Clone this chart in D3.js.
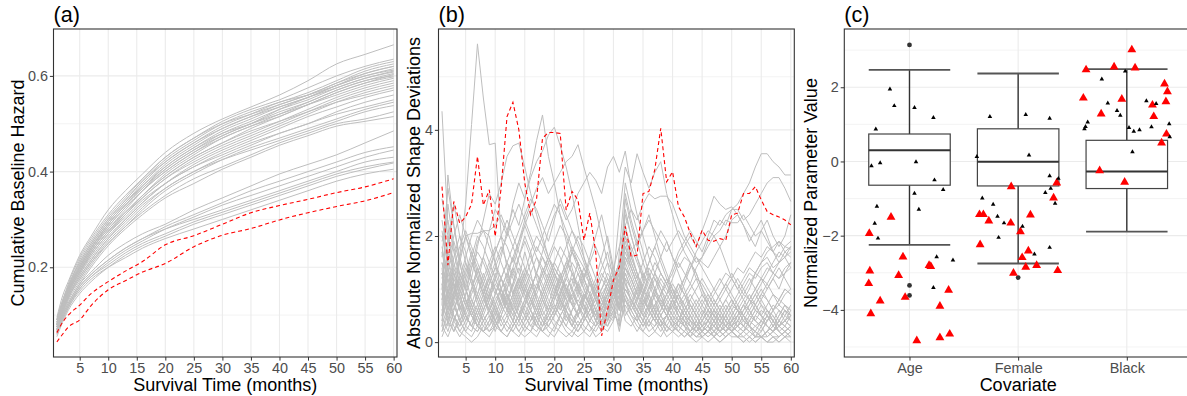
<!DOCTYPE html>
<html><head><meta charset="utf-8">
<script src="https://cdn.jsdelivr.net/npm/d3@7"></script>
<style>body{margin:0;background:#fff}svg{display:block}</style>
</head><body>
<svg id="chart" width="1187" height="396"></svg>
<script>
// ---------------- DATA ----------------
// Panel (a): cumulative baseline hazard, sampled months
const hazMonths = [1,2,3,5,7,10,13,16,20,25,30,35,40,45,50,55,60];
const hazGrey = [
 [0.095,0.14,0.17,0.225,0.265,0.32,0.36,0.395,0.44,0.48,0.51,0.535,0.56,0.59,0.625,0.645,0.665],
 [0.09,0.13,0.165,0.22,0.26,0.31,0.35,0.385,0.43,0.47,0.505,0.53,0.55,0.575,0.60,0.62,0.635],
 [0.085,0.125,0.16,0.21,0.25,0.30,0.34,0.38,0.425,0.465,0.50,0.525,0.545,0.565,0.59,0.615,0.63],
 [0.09,0.13,0.16,0.215,0.255,0.305,0.345,0.385,0.43,0.47,0.50,0.52,0.54,0.56,0.585,0.61,0.625],
 [0.08,0.12,0.155,0.205,0.245,0.295,0.335,0.375,0.42,0.46,0.49,0.515,0.54,0.56,0.585,0.605,0.62],
 [0.085,0.12,0.15,0.20,0.24,0.29,0.33,0.37,0.415,0.455,0.49,0.515,0.535,0.555,0.58,0.60,0.615],
 [0.075,0.115,0.15,0.20,0.24,0.29,0.33,0.365,0.41,0.45,0.485,0.51,0.535,0.555,0.575,0.595,0.61],
 [0.08,0.12,0.15,0.195,0.235,0.28,0.32,0.36,0.405,0.445,0.48,0.505,0.53,0.55,0.575,0.595,0.608],
 [0.09,0.125,0.155,0.205,0.245,0.295,0.335,0.37,0.41,0.45,0.48,0.50,0.525,0.545,0.57,0.59,0.605],
 [0.07,0.11,0.145,0.19,0.23,0.275,0.315,0.35,0.395,0.435,0.47,0.495,0.52,0.545,0.57,0.59,0.60],
 [0.08,0.115,0.15,0.195,0.235,0.285,0.325,0.36,0.40,0.44,0.47,0.495,0.515,0.54,0.565,0.585,0.598],
 [0.085,0.12,0.155,0.20,0.24,0.29,0.33,0.365,0.405,0.445,0.475,0.50,0.52,0.54,0.56,0.58,0.595],
 [0.075,0.11,0.14,0.185,0.225,0.27,0.31,0.345,0.385,0.425,0.455,0.48,0.505,0.53,0.555,0.575,0.59],
 [0.08,0.115,0.145,0.19,0.23,0.275,0.31,0.345,0.385,0.42,0.45,0.475,0.50,0.525,0.55,0.57,0.585],
 [0.07,0.105,0.135,0.18,0.215,0.26,0.30,0.335,0.375,0.415,0.445,0.47,0.495,0.52,0.545,0.565,0.58],
 [0.085,0.12,0.15,0.195,0.235,0.28,0.315,0.35,0.39,0.43,0.46,0.485,0.505,0.525,0.545,0.56,0.575],
 [0.075,0.11,0.14,0.185,0.22,0.265,0.30,0.335,0.375,0.41,0.44,0.465,0.49,0.515,0.535,0.555,0.57],
 [0.07,0.105,0.135,0.175,0.21,0.255,0.29,0.325,0.365,0.40,0.43,0.455,0.48,0.50,0.525,0.545,0.56],
 [0.08,0.115,0.145,0.19,0.225,0.27,0.305,0.34,0.375,0.41,0.435,0.46,0.48,0.50,0.52,0.535,0.55],
 [0.065,0.10,0.13,0.17,0.205,0.25,0.285,0.32,0.36,0.395,0.425,0.45,0.47,0.49,0.51,0.53,0.545],
 [0.075,0.11,0.14,0.18,0.215,0.26,0.295,0.33,0.365,0.40,0.425,0.445,0.465,0.485,0.505,0.525,0.538],
 [0.07,0.105,0.135,0.175,0.21,0.25,0.285,0.315,0.35,0.385,0.41,0.435,0.46,0.48,0.50,0.51,0.525],
 [0.065,0.10,0.125,0.165,0.20,0.245,0.28,0.31,0.345,0.375,0.405,0.43,0.455,0.475,0.495,0.505,0.515],
 [0.09,0.13,0.16,0.21,0.25,0.30,0.34,0.38,0.42,0.46,0.495,0.52,0.545,0.56,0.58,0.60,0.612],
 [0.08,0.12,0.15,0.20,0.24,0.285,0.325,0.36,0.40,0.44,0.475,0.50,0.53,0.555,0.58,0.605,0.62],
 [0.075,0.11,0.145,0.19,0.23,0.275,0.31,0.35,0.39,0.43,0.46,0.49,0.515,0.54,0.565,0.585,0.603],
 [0.07,0.10,0.125,0.165,0.19,0.225,0.25,0.27,0.29,0.32,0.345,0.37,0.395,0.415,0.435,0.46,0.485],
 [0.065,0.095,0.12,0.16,0.185,0.215,0.24,0.26,0.285,0.31,0.335,0.36,0.38,0.40,0.42,0.44,0.452],
 [0.06,0.09,0.115,0.155,0.18,0.21,0.235,0.255,0.28,0.305,0.33,0.35,0.37,0.39,0.41,0.43,0.445],
 [0.065,0.095,0.12,0.155,0.18,0.205,0.23,0.25,0.27,0.295,0.315,0.335,0.355,0.375,0.395,0.41,0.42],
 [0.055,0.085,0.11,0.145,0.17,0.20,0.225,0.245,0.265,0.29,0.31,0.33,0.35,0.37,0.39,0.405,0.418],
 [0.06,0.09,0.115,0.15,0.175,0.20,0.22,0.24,0.26,0.28,0.30,0.32,0.34,0.36,0.38,0.395,0.405],
 [0.065,0.095,0.12,0.16,0.185,0.215,0.24,0.26,0.28,0.30,0.32,0.34,0.36,0.38,0.40,0.42,0.43]
];
const hazRed = [
 [0.063,0.085,0.10,0.121,0.145,0.17,0.192,0.212,0.247,0.266,0.29,0.314,0.329,0.342,0.356,0.368,0.385],
 [0.044,0.06,0.075,0.09,0.12,0.153,0.172,0.19,0.208,0.243,0.267,0.281,0.299,0.314,0.327,0.339,0.356]
];

// Panel (b): absolute normalized shape deviations, months 1..60
const devMonths = [1,2,3,4,5,6,7,8,9,10,11,12,13,14,15,16,17,18,19,20,21,22,23,24,25,26,27,28,29,30,
 31,32,33,34,35,36,37,38,39,40,41,42,43,44,45,46,47,48,49,50,51,52,53,54,55,56,57,58,59,60];
const devRed = [2.93,1.45,2.65,2.24,2.36,2.6,3.5,2.58,2.87,1.99,
 2.9,4.25,4.52,4.0,3.0,2.4,2.7,3.84,3.95,3.95,
 3.93,2.49,2.84,2.68,1.92,2.43,1.7,0.12,0.6,1.17,
 1.42,2.18,1.61,1.64,2.8,2.84,3.25,4.03,3.02,3.21,
 2.55,2.36,2.05,1.8,2.11,1.92,1.9,1.95,1.92,2.4,
 2.43,2.8,2.8,2.93,2.68,2.46,2.4,2.36,2.3,2.21];
const devGrey = [
 [1.1,0.6,0.9,1.6,2.6,4.1,5.62,4.6,3.72,3.75, 2.0,1.4,0.9,1.2,1.7,1.3,0.8,0.5,0.7,1.1, 0.8,0.5,0.3,0.6,0.9,0.7,0.4,0.3,0.5,0.4, 0.8,1.2,0.7,0.5,0.3,0.4,0.6,0.4,0.2,0.3, 0.5,0.4,0.2,0.1,0.2,0.3,0.2,0.1,0.2,0.4, 0.5,0.3,0.2,0.1,0.2,0.4,0.5,0.3,0.2,0.3],
 [4.35,2.2,1.1,0.6,0.9,1.4,1.9,2.1,2.0,1.5, 1.0,0.7,1.1,1.6,2.0,1.7,1.2,0.8,0.6,0.9, 1.3,1.0,0.7,0.5,0.8,1.1,0.9,0.6,0.8,1.0, 1.3,0.9,0.6,0.4,0.7,0.9,0.6,0.4,0.5,0.7, 0.9,0.6,0.4,0.3,0.2,0.4,0.6,0.5,0.3,0.2, 0.4,0.6,0.8,0.7,0.5,0.4,0.6,0.8,0.7,0.5],
 [0.8,1.3,1.9,1.5,1.0,0.7,1.1,1.6,2.1,2.5, 2.3,2.0,2.6,3.0,2.7,3.2,3.8,4.28,3.5,3.0, 2.4,1.9,1.4,1.0,0.8,1.2,0.9,0.6,0.9,1.2, 1.5,1.1,0.8,0.6,0.9,1.3,1.0,0.7,0.5,0.8, 0.6,0.4,0.3,0.2,0.3,0.5,0.4,0.2,0.1,0.2, 0.3,0.5,0.7,0.9,1.1,1.3,1.5,1.7,1.6,1.8],
 [1.5,0.9,0.5,0.3,0.6,1.0,1.4,1.1,0.8,1.2, 1.6,2.1,2.5,2.2,2.7,3.1,3.4,3.6,3.9,4.05, 3.7,3.3,2.8,2.2,1.6,1.2,0.8,0.5,0.4,0.7, 1.0,1.4,1.2,0.9,0.6,0.4,0.3,0.5,0.7,0.5, 0.3,0.2,0.4,0.6,0.8,0.6,0.4,0.3,0.5,0.7, 0.6,0.4,0.3,0.2,0.1,0.1,0.2,0.3,0.4,0.3],
 [0.5,1.0,1.6,2.0,1.7,1.2,1.8,2.3,2.8,2.6, 3.0,3.5,3.7,3.75,3.3,2.8,2.4,2.0,1.6,1.3, 1.0,0.8,1.1,1.5,1.2,0.9,0.6,0.4,0.6,0.9, 1.1,0.8,0.5,0.4,0.6,0.9,1.2,1.0,0.7,0.5, 0.4,0.3,0.5,0.7,0.9,0.7,0.5,0.4,0.2,0.1, 0.1,0.2,0.3,0.5,0.4,0.3,0.2,0.4,0.6,0.5],
 [0.3,0.7,1.2,0.9,0.5,0.3,0.6,0.9,1.3,1.7, 2.0,1.8,1.5,1.9,2.3,2.6,2.9,3.1,2.8,3.0, 3.2,3.4,3.5,3.72,3.3,2.9,2.5,2.0,1.5,1.0, 0.7,1.0,0.8,0.5,0.3,0.5,0.7,0.9,0.6,0.4, 0.3,0.5,0.7,0.5,0.3,0.2,0.1,0.2,0.3,0.2, 0.1,0.1,0.2,0.1,0.1,0.0,0.1,0.1,0.2,0.1],
 [0.9,1.4,1.0,0.6,0.9,1.2,0.8,0.5,0.3,0.5, 0.8,1.1,1.4,1.1,0.8,1.0,1.3,1.7,2.1,2.4, 2.6,2.3,2.5,2.8,3.0,3.2,3.05,2.8,3.3,3.5, 3.2,3.6,2.9,2.4,2.0,1.6,1.3,1.0,0.8,0.6, 0.9,1.2,1.5,1.3,1.0,0.7,0.5,0.4,0.6,0.8, 0.6,0.4,0.3,0.5,0.7,0.6,0.4,0.3,0.2,0.3],
 [1.3,0.8,0.4,0.7,1.1,1.5,1.2,0.9,0.6,0.9, 1.2,0.9,0.6,0.4,0.7,1.0,1.3,1.1,0.8,0.6, 0.9,1.3,1.7,1.5,1.2,0.9,0.6,0.4,0.8,1.2, 2.4,3.3,3.0,3.55,3.2,2.9,3.2,3.4,2.8,2.4, 2.0,1.7,1.5,1.2,0.9,0.7,0.5,0.3,0.2,0.4, 0.6,0.5,0.3,0.2,0.4,0.6,0.5,0.3,0.4,0.6],
 [0.6,1.0,0.7,0.4,0.6,0.9,1.2,0.9,0.6,0.4, 0.6,0.9,0.7,0.5,0.8,1.1,0.9,0.6,0.4,0.6, 0.9,1.2,1.0,0.7,0.5,0.7,1.0,1.3,1.1,0.8, 1.0,1.4,1.2,0.9,0.7,1.0,1.3,1.1,0.9,1.2, 1.5,1.3,1.1,1.4,1.6,1.9,2.1,2.3,2.2,2.5, 2.6,2.8,3.0,3.3,3.55,3.55,3.4,3.3,3.15,3.15],
 [1.8,1.2,0.8,1.1,1.5,1.2,0.9,0.6,0.9,1.3, 1.0,0.7,0.5,0.8,1.1,0.8,0.6,0.9,1.2,1.5, 1.3,1.0,0.8,1.1,1.4,1.2,0.9,0.7,0.9,1.1, 1.4,1.8,1.5,1.2,1.5,1.8,1.6,1.3,1.1,1.4, 1.7,1.9,2.1,1.9,1.7,2.0,2.3,2.2,2.4,2.5, 2.5,2.3,2.4,2.6,2.8,3.0,3.1,3.1,2.9,2.65],
 [0.4,0.9,1.3,1.0,0.7,1.0,1.4,1.1,0.8,0.5, 0.8,1.2,1.6,1.3,1.0,0.7,1.0,1.4,1.2,0.9, 0.6,0.9,1.3,1.1,0.8,0.6,0.9,1.2,1.0,0.8, 1.2,1.6,1.4,1.1,0.9,1.2,1.5,1.3,1.1,1.3, 1.6,1.8,2.0,1.8,2.1,2.4,2.75,2.6,2.5,2.55, 2.4,2.2,1.9,2.1,2.3,2.0,1.7,1.5,1.6,1.4],
 [1.0,2.6,1.8,1.3,1.0,1.4,1.7,1.5,1.2,0.9, 1.2,1.5,1.3,1.0,1.3,1.7,2.0,1.8,1.5,1.2, 1.5,1.8,2.1,1.9,1.6,1.3,1.0,0.8,1.1,1.4, 1.8,2.2,2.5,2.3,2.6,2.8,2.7,2.75,2.75,2.6, 2.3,2.0,1.8,1.6,1.5,1.4,1.6,1.8,1.5,1.2, 1.0,0.8,1.0,1.3,1.5,1.7,1.8,1.9,1.8,1.9],
 [0.2,0.5,0.9,1.3,1.0,0.7,0.4,0.7,1.1,1.4, 1.2,0.9,0.6,0.9,1.2,1.5,1.8,1.6,1.3,1.0, 0.8,0.5,0.3,0.6,0.9,0.7,0.5,0.8,1.1,0.9, 1.3,2.0,1.6,1.3,1.0,0.8,0.6,0.9,1.2,1.0, 0.8,1.1,1.4,1.7,1.9,2.1,2.0,1.8,2.0,2.3, 2.4,2.2,2.0,1.8,2.1,2.3,2.0,1.8,2.0,2.4],
 [0.7,0.4,0.2,0.5,0.8,0.6,0.3,0.5,0.8,1.1, 0.9,0.6,0.4,0.7,1.0,0.8,0.5,0.3,0.6,0.9, 1.2,1.0,0.7,0.5,0.8,1.1,0.9,0.6,0.4,0.6, 0.9,1.3,1.0,0.7,0.5,0.7,1.0,0.8,0.6,0.4, 0.3,0.5,0.7,0.5,0.3,0.4,0.6,0.8,1.0,1.2, 1.4,1.3,1.5,1.7,1.6,1.8,1.7,1.9,1.7,1.8],
 [2.0,1.5,1.1,0.8,1.2,1.6,2.0,1.8,1.5,1.2, 0.9,0.6,0.4,0.2,0.4,0.7,1.0,1.3,1.6,1.9, 2.2,2.0,1.7,1.4,1.1,0.8,0.5,0.3,0.5,0.8, 1.1,2.8,2.3,1.9,1.5,1.2,0.9,0.7,0.5,0.3, 0.2,0.1,0.2,0.3,0.5,0.7,0.9,1.1,1.3,1.2, 1.0,1.2,1.4,1.3,1.5,1.6,1.4,1.5,1.7,1.6],
 [1.6,2.9,2.2,1.6,1.2,0.8,0.5,0.3,0.2,0.4, 0.7,1.0,1.4,1.8,2.2,2.5,2.2,1.9,1.6,1.3, 1.0,0.7,0.5,0.3,0.5,0.8,1.1,1.4,1.7,1.2, 0.9,1.6,1.3,1.0,0.7,0.5,0.7,0.9,1.1,0.8, 0.5,0.3,0.2,0.1,0.1,0.2,0.4,0.6,0.8,0.6, 0.4,0.3,0.5,0.7,0.9,1.1,1.3,1.2,1.4,1.5],
 [0.1,0.4,0.8,1.2,1.6,2.0,2.3,2.1,1.8,1.5, 1.2,1.5,1.8,2.1,2.4,2.7,2.5,2.2,1.9,2.3, 2.7,2.4,2.1,1.8,1.5,1.2,0.9,0.6,0.9,1.2, 1.5,2.1,1.8,1.5,1.2,1.5,1.8,2.1,1.9,1.6, 1.4,1.6,1.5,1.3,1.0,0.8,0.6,0.4,0.3,0.2, 0.1,0.0,0.1,0.2,0.1,0.0,0.1,0.0,0.1,0.2],
 [1.0,0.6,0.3,0.1,0.3,0.6,0.9,1.2,1.5,1.8, 1.5,1.2,0.9,0.6,0.4,0.6,0.9,1.2,1.5,1.8, 1.6,1.3,1.0,0.7,0.4,0.6,0.9,1.2,1.5,1.3, 0.6,2.5,2.0,1.6,1.2,0.9,0.6,0.4,0.2,0.4, 0.6,0.8,1.0,1.2,1.1,0.9,0.7,0.5,0.3,0.4, 0.6,0.5,0.3,0.1,0.1,0.2,0.3,0.5,0.7,0.6],
 [1.4,0.3,0.9,1.5,2.0,1.7,1.3,0.9,0.5,0.2, 0.5,0.8,1.1,1.4,1.1,0.8,0.5,0.3,0.5,0.8, 1.1,1.4,1.7,2.0,1.8,1.5,1.2,1.6,2.0,1.4, 1.1,1.4,1.1,0.8,0.5,0.3,0.5,0.7,0.9,1.1, 0.9,0.7,0.5,0.3,0.2,0.3,0.5,0.7,0.5,0.3, 0.2,0.3,0.5,0.7,0.9,0.8,0.6,0.7,0.9,1.0],
 [0.3,1.8,2.6,2.0,1.5,1.1,0.7,0.4,0.2,0.3, 0.6,0.9,0.6,0.4,0.2,0.4,0.7,1.0,1.3,1.0, 0.7,0.4,0.6,0.9,1.2,1.6,2.0,2.4,1.9,1.3, 1.0,1.9,1.5,1.2,0.9,0.6,0.4,0.6,0.9,0.7, 0.5,0.3,0.2,0.4,0.6,0.4,0.2,0.1,0.2,0.3, 0.5,0.7,0.6,0.4,0.3,0.5,0.7,0.6,0.4,0.5],
 [1.2,1.7,1.3,0.9,0.5,0.3,0.2,0.4,0.6,0.8, 1.0,1.3,1.6,1.9,2.2,1.9,1.6,1.3,1.0,0.7, 0.5,0.7,1.0,1.3,1.0,0.7,0.4,0.2,0.4,1.2, 0.3,1.5,1.2,0.9,1.2,1.5,1.8,1.5,1.2,0.9, 0.7,0.5,0.3,0.2,0.3,0.4,0.6,0.4,0.3,0.2, 0.4,0.6,0.8,0.6,0.5,0.3,0.2,0.3,0.5,0.4],
 [0.5,0.2,0.6,1.0,1.4,1.1,0.8,1.1,1.4,1.7, 2.0,2.3,2.0,1.7,1.4,1.1,0.8,0.5,0.3,0.5, 0.8,1.1,0.8,0.5,0.3,0.2,0.4,0.7,1.0,1.3, 1.1,0.8,0.6,0.8,1.1,0.8,0.5,0.3,0.5,0.8, 1.1,0.9,0.6,0.4,0.2,0.1,0.2,0.4,0.6,0.8, 0.6,0.4,0.3,0.2,0.1,0.2,0.4,0.6,0.5,0.7],
 [2.3,1.6,1.1,0.7,0.4,0.6,0.9,1.3,1.0,0.7, 0.4,0.2,0.4,0.7,1.0,1.3,1.6,1.4,1.1,0.8, 1.1,1.4,1.7,1.5,1.2,0.9,0.6,0.3,0.2,0.4, 1.7,3.0,2.5,2.1,1.7,1.3,1.0,0.7,0.5,0.3, 0.4,0.6,0.8,0.6,0.4,0.3,0.1,0.0,0.1,0.2, 0.3,0.2,0.1,0.0,0.1,0.0,0.0,0.1,0.2,0.1],
 [0.8,1.2,0.8,0.4,0.2,0.1,0.3,0.6,0.9,0.6, 0.3,0.5,0.8,0.5,0.3,0.2,0.4,0.7,1.0,1.3, 1.1,0.8,0.5,0.3,0.5,0.8,1.1,0.8,0.6,0.5, 0.4,1.1,0.9,0.6,0.4,0.3,0.5,0.8,0.6,0.4, 0.2,0.4,0.6,0.8,0.6,0.5,0.7,0.9,1.1,1.3, 1.1,0.9,1.1,1.3,1.2,1.0,1.2,1.4,1.2,1.0],
 [1.9,2.3,1.7,1.2,0.8,0.5,0.3,0.2,0.4,0.7, 1.0,0.8,0.5,0.3,0.5,0.8,1.1,0.9,0.6,0.4, 0.3,0.5,0.3,0.2,0.4,0.6,0.8,1.0,1.3,1.1, 0.9,2.2,1.7,1.3,0.9,0.6,0.4,0.3,0.5,0.7, 0.9,0.7,0.5,0.3,0.4,0.6,0.8,0.6,0.4,0.3, 0.5,0.7,0.9,0.7,0.5,0.7,0.9,0.7,0.6,0.4],
 [0.6,0.9,1.4,1.8,2.1,1.8,1.5,1.2,0.9,0.6, 0.4,0.6,0.9,1.2,0.9,0.6,0.3,0.2,0.4,0.6, 0.9,1.2,1.5,1.3,1.0,0.7,0.4,0.6,0.9,1.2, 1.3,0.5,0.7,1.0,1.3,1.1,0.8,0.5,0.3,0.2, 0.3,0.2,0.1,0.3,0.5,0.4,0.3,0.5,0.7,0.5, 0.3,0.2,0.4,0.3,0.2,0.4,0.6,0.4,0.3,0.2],
 [0.9,0.5,0.2,0.4,0.7,0.5,0.3,0.2,0.1,0.3, 0.5,0.3,0.2,0.4,0.7,1.0,1.3,1.6,1.4,1.1, 0.8,0.6,0.4,0.6,0.9,0.7,0.5,0.3,0.6,1.0, 0.8,2.7,2.2,1.8,2.1,2.4,2.0,1.6,1.3,1.0, 0.7,0.5,0.4,0.2,0.1,0.2,0.3,0.2,0.1,0.2, 0.3,0.5,0.4,0.6,0.5,0.3,0.2,0.1,0.2,0.3],
 [1.7,1.1,0.7,0.4,0.2,0.4,0.6,0.9,1.2,1.0, 0.7,0.5,0.3,0.5,0.8,0.6,0.4,0.2,0.1,0.3, 0.5,0.7,0.9,1.1,0.9,0.7,0.5,0.7,1.0,0.7, 0.2,0.9,0.7,0.5,0.3,0.5,0.7,0.5,0.3,0.2, 0.4,0.6,0.8,1.0,1.2,1.0,0.8,0.6,0.8,1.0, 1.2,1.0,0.8,1.0,1.2,1.4,1.3,1.5,1.6,1.7],
 [0.4,1.5,2.0,2.4,2.0,1.6,1.2,0.9,1.2,1.5, 1.8,1.5,1.2,0.9,0.6,0.4,0.6,0.9,1.2,1.5, 1.8,1.6,1.3,1.0,0.7,0.4,0.6,0.9,1.1,1.3, 1.1,1.8,1.4,1.1,0.8,0.6,0.9,1.2,1.0,0.8, 0.6,0.4,0.2,0.1,0.2,0.4,0.3,0.2,0.3,0.5, 0.7,0.9,0.8,1.0,1.2,1.1,0.9,0.8,1.0,0.9],
 [1.1,0.7,0.4,0.2,0.1,0.0,0.1,0.3,0.5,0.3, 0.2,0.1,0.3,0.5,0.3,0.2,0.1,0.3,0.5,0.7, 0.5,0.3,0.2,0.1,0.2,0.4,0.6,0.4,0.3,0.6, 0.5,0.8,0.6,0.4,0.2,0.1,0.2,0.4,0.3,0.2, 0.1,0.2,0.1,0.0,0.1,0.2,0.1,0.0,0.1,0.2, 0.1,0.0,0.1,0.0,0.1,0.2,0.1,0.0,0.1,0.1],
 [2.7,2.0,1.4,1.0,0.7,1.0,1.3,1.6,1.3,1.0, 0.7,1.0,1.3,1.6,1.9,1.6,1.3,1.0,0.7,0.5, 0.7,1.0,1.2,0.9,0.6,0.4,0.3,0.5,0.8,1.1, 1.4,2.4,2.0,1.6,1.3,1.0,1.3,1.6,1.9,1.6, 1.3,1.0,0.7,0.5,0.3,0.2,0.3,0.5,0.4,0.3, 0.5,0.7,0.5,0.4,0.6,0.5,0.3,0.4,0.6,0.5],
 [0.2,0.6,1.1,0.8,0.5,0.3,0.5,0.8,1.1,1.4, 1.7,2.0,2.3,2.6,2.3,2.0,1.7,2.0,2.3,2.6, 2.4,2.1,1.8,1.5,1.2,1.5,1.8,1.5,1.2,0.9, 0.6,1.3,1.0,0.8,1.1,1.4,1.2,0.9,0.6,0.8, 1.0,1.2,1.4,1.6,1.4,1.2,1.0,0.8,0.6,0.4, 0.3,0.4,0.6,0.8,1.0,0.8,0.6,0.8,1.0,0.9],
 [1.3,0.8,1.2,1.6,2.0,2.05,2.05,2.1,2.1,2.2, 2.4,2.1,1.8,1.5,1.2,0.9,0.6,0.4,0.3,0.5, 0.8,0.6,0.4,0.2,0.4,0.6,0.8,0.6,0.4,0.8, 1.0,1.7,1.4,1.1,0.8,0.6,0.4,0.6,0.8,1.0, 0.8,0.6,0.4,0.3,0.4,0.6,0.5,0.3,0.2,0.3, 0.4,0.3,0.2,0.3,0.4,0.3,0.2,0.3,0.4,0.3],
 [0.7,3.15,2.2,1.5,1.0,0.6,0.3,0.2,0.4,0.7, 1.0,1.3,1.0,0.7,0.5,0.3,0.5,0.8,1.1,1.4, 1.2,0.9,0.7,1.0,1.3,1.1,0.8,0.5,0.7,0.9, 0.7,1.2,1.0,0.7,0.5,0.7,1.0,1.3,1.1,0.9, 0.7,0.9,1.1,0.9,0.7,0.5,0.3,0.2,0.3,0.5, 0.7,0.5,0.3,0.2,0.1,0.2,0.3,0.2,0.1,0.2],
 [0.5,0.8,0.5,0.3,0.5,0.8,0.6,0.4,0.6,0.9, 1.2,1.0,0.8,1.1,1.4,1.2,1.0,1.3,1.6,1.4, 1.2,1.5,1.8,1.6,1.4,1.1,0.9,0.7,0.9,1.0, 1.2,1.5,1.7,1.9,2.1,2.3,2.1,1.9,1.7,1.9, 2.1,1.9,1.7,1.5,1.6,1.8,2.0,2.1,2.3,2.25, 2.25,2.4,2.2,2.0,2.1,1.9,1.7,1.6,1.8,1.75],
 [1.5,1.0,0.6,0.9,1.3,1.7,1.4,1.0,0.7,0.4, 0.2,0.4,0.7,1.0,1.3,1.0,0.7,0.4,0.6,0.9, 1.2,1.5,1.3,1.0,0.7,0.5,0.7,1.0,1.2,1.0, 0.6,1.0,0.8,0.6,0.4,0.6,0.9,0.7,0.5,0.3, 0.2,0.1,0.2,0.4,0.2,0.1,0.2,0.3,0.5,0.7, 0.9,1.1,1.3,1.2,1.4,1.5,1.3,1.2,1.3,1.4],
 [0.3,0.1,0.4,0.7,0.5,0.3,0.2,0.4,0.6,0.4, 0.2,0.1,0.3,0.5,0.7,0.5,0.3,0.2,0.4,0.6, 0.4,0.2,0.1,0.3,0.5,0.3,0.2,0.4,0.7,0.9, 0.7,1.0,0.8,0.6,0.4,0.2,0.3,0.5,0.7,0.9, 1.1,0.9,0.7,0.5,0.3,0.2,0.4,0.6,0.4,0.2, 0.1,0.2,0.4,0.6,0.8,0.6,0.4,0.2,0.3,0.5],
 [0.9,1.3,0.9,0.6,0.3,0.2,0.5,0.8,0.6,0.3, 0.5,0.8,1.1,0.8,0.5,0.3,0.2,0.4,0.2,0.1, 0.3,0.6,0.9,0.7,0.5,0.3,0.1,0.2,0.5,0.9, 1.2,0.6,0.4,0.2,0.4,0.7,0.5,0.3,0.1,0.2, 0.4,0.7,0.9,0.7,0.5,0.8,1.0,1.2,1.0,0.8, 0.6,0.8,0.6,0.4,0.3,0.1,0.2,0.4,0.3,0.2],
 [0.5,2.0,1.5,1.1,0.8,0.5,0.7,1.0,0.7,0.4, 0.2,0.4,0.2,0.1,0.3,0.5,0.3,0.6,0.9,1.2, 0.9,0.6,0.3,0.5,0.7,0.5,0.3,0.5,0.8,0.6, 0.3,0.7,0.5,0.3,0.2,0.4,0.2,0.1,0.3,0.5, 0.7,0.5,0.3,0.5,0.7,0.9,0.7,0.9,1.1,0.9, 0.7,0.5,0.7,0.9,0.7,0.5,0.3,0.5,0.7,0.6],
 [1.3,0.9,0.5,0.2,0.4,0.7,0.4,0.2,0.3,0.6, 0.9,0.7,0.4,0.2,0.1,0.2,0.5,0.8,0.5,0.3, 0.2,0.1,0.2,0.4,0.2,0.1,0.3,0.5,0.3,0.5, 0.9,0.4,0.3,0.5,0.8,0.6,0.4,0.2,0.4,0.6, 0.4,0.3,0.5,0.3,0.1,0.0,0.1,0.3,0.5,0.3, 0.2,0.1,0.0,0.1,0.3,0.5,0.4,0.2,0.1,0.0],
 [2.1,1.4,0.9,1.2,0.8,0.5,0.3,0.6,0.9,1.2, 0.9,0.6,0.9,1.2,0.9,0.6,0.4,0.2,0.3,0.2, 0.5,0.3,0.6,0.8,0.6,0.9,1.2,0.9,0.7,0.9, 1.0,2.0,1.6,1.3,1.0,0.7,0.5,0.3,0.5,0.7, 0.5,0.3,0.1,0.2,0.4,0.6,0.4,0.2,0.4,0.6, 0.8,1.0,1.2,1.0,0.8,1.0,1.2,1.0,1.3,1.5]
];

// Panel (c): normalized parameter values by covariate
const covariates = ["Age","Female","Black"];
const boxLower  = [-2.25,-2.75,-1.89];
const boxQ1     = [-0.64,-0.66,-0.73];
const boxMedian = [0.30,-0.01,-0.27];
const boxQ3     = [0.74,0.88,0.57];
const boxUpper  = [2.47,2.37,2.49];
const outlierCov = ["Age","Age","Age","Female"];
const outlierVal = [3.14,-3.34,-3.61,-3.13];
// small black triangles (jitter offset in category units, value)
const smallCov = ["Age","Age","Age","Age","Age","Age","Age","Age","Age","Age","Age","Age","Age","Age","Age","Age","Age","Age",
 "Female","Female","Female","Female","Female","Female","Female","Female","Female","Female","Female","Female","Female","Female","Female","Female","Female","Female",
 "Black","Black","Black","Black","Black","Black","Black","Black","Black","Black","Black","Black","Black","Black","Black","Black","Black"];
const smallJit = [-0.18,-0.14,0.046,0.22,-0.31,-0.35,-0.27,0.06,0.23,0.31,0.046,-0.30,0.086,-0.32,-0.29,0.25,0.40,0.22,
 -0.26,0.07,0.29,-0.38,0.10,0.29,0.37,0.30,0.25,-0.33,0.34,-0.23,-0.19,-0.13,0.04,-0.18,0.29,0.15,
 -0.015,-0.23,-0.175,-0.09,-0.06,0.18,0.27,-0.36,-0.38,-0.39,0.02,0.064,0.117,0.227,0.39,0.395,0.052];
const smallVal = [1.95,1.50,1.45,1.18,0.87,-0.12,-0.04,-0.01,-0.50,-0.76,-0.86,-1.21,-1.29,-1.67,-2.07,-2.57,-2.66,-3.40,
 1.21,1.26,1.16,0.13,0.17,-0.39,-0.46,-0.73,-0.84,-0.99,-1.13,-1.16,-1.48,-1.66,-1.75,-2.05,-2.32,-2.50,
 2.43,2.22,1.57,1.37,1.24,1.63,1.56,1.06,0.94,0.88,0.91,0.81,0.85,0.93,1.01,0.66,0.26];
// large red triangles
const bigCov = ["Age","Age","Age","Age","Age","Age","Age","Age","Age","Age","Age","Age","Age","Age","Age","Age",
 "Female","Female","Female","Female","Female","Female","Female","Female","Female","Female","Female","Female","Female","Female","Female","Female",
 "Black","Black","Black","Black","Black","Black","Black","Black","Black","Black","Black","Black","Black","Black","Black","Black"];
const bigJit = [-0.17,-0.37,-0.06,0.18,0.196,-0.365,-0.10,-0.375,0.36,-0.04,-0.27,0.28,-0.356,0.067,0.28,0.37,
 -0.064,0.355,0.326,-0.356,-0.32,-0.27,0.113,-0.068,0.021,-0.35,0.094,0.037,0.07,0.17,-0.043,0.364,
 0.046,-0.375,-0.117,0.076,-0.40,-0.046,-0.236,0.347,0.374,0.36,0.236,0.248,0.365,0.32,-0.25,-0.02];
const bigVal = [-1.50,-1.94,-2.57,-2.80,-2.83,-2.95,-3.07,-3.29,-3.47,-3.66,-3.76,-3.90,-4.10,-4.83,-4.75,-4.65,
 -0.68,-0.58,-0.98,-1.43,-1.43,-1.60,-1.44,-1.66,-1.89,-2.24,-2.41,-2.59,-2.85,-2.80,-3.01,-2.94,
 3.01,2.47,2.55,2.52,1.71,1.68,1.28,2.09,1.88,1.61,1.52,1.21,0.74,0.50,-0.25,-0.56];

const monthTicks = [5,10,15,20,25,30,35,40,45,50,55,60];

// ---------------- DRAWING ----------------
const FONT = "'Liberation Sans', Arial, Helvetica, sans-serif";
const svg = d3.select("#chart");
svg.append("rect").attr("width",1187).attr("height",396).attr("fill","#fff");

function panel(cfg){
  const g = svg.append("g");
  const {x, y, x0, x1, y0, y1} = cfg;
  const clipId = "clip-" + cfg.tag;
  svg.append("clipPath").attr("id", clipId).append("rect")
    .attr("x", x0).attr("y", y0).attr("width", x1 - x0).attr("height", y1 - y0);
  const grid = g.append("g").attr("clip-path", `url(#${clipId})`);
  grid.selectAll(".ymin").data(cfg.yMinor).join("line")
    .attr("x1", x0).attr("x2", x1).attr("y1", d => y(d)).attr("y2", d => y(d))
    .attr("stroke", "#EBEBEB").attr("stroke-width", 0.6);
  grid.selectAll(".ymaj").data(cfg.yTicks).join("line")
    .attr("x1", x0).attr("x2", x1).attr("y1", d => y(d)).attr("y2", d => y(d))
    .attr("stroke", "#EBEBEB").attr("stroke-width", 1.1);
  grid.selectAll(".xmaj").data(cfg.xTicks).join("line")
    .attr("x1", d => x(d)).attr("x2", d => x(d)).attr("y1", y0).attr("y2", y1)
    .attr("stroke", "#EBEBEB").attr("stroke-width", 1.1);
  const plot = g.append("g").attr("clip-path", `url(#${clipId})`);
  const ax = g.append("g").attr("transform", `translate(0,${y1})`)
    .call(d3.axisBottom(x).tickValues(cfg.xTicks).tickSize(3.6).tickPadding(2.2).tickFormat(cfg.xFormat || (d => d)));
  const ay = g.append("g").attr("transform", `translate(${x0},0)`)
    .call(d3.axisLeft(y).tickValues(cfg.yTicks).tickSize(3.6).tickPadding(2).tickFormat(cfg.yFormat));
  [ax, ay].forEach(a => {
    a.select(".domain").remove();
    a.selectAll("line").attr("stroke", "#333").attr("stroke-width", 1);
    a.selectAll("text").attr("fill", "#4D4D4D").style("font-family", FONT).style("font-size", "14.4px");
  });
  g.append("rect").attr("x", x0).attr("y", y0).attr("width", x1 - x0).attr("height", y1 - y0)
    .attr("fill", "none").attr("stroke", "#333").attr("stroke-width", 1.1);
  g.append("text").attr("x", x0).attr("y", 22).text(cfg.label)
    .style("font-family", FONT).style("font-size", "21.6px").attr("fill", "#000");
  g.append("text").attr("x", (x0 + x1) / 2).attr("y", 390.5)
    .attr("text-anchor", "middle").text(cfg.xTitle)
    .style("font-family", FONT).style("font-size", "18px").attr("fill", "#000");
  g.append("text").attr("transform", `translate(${cfg.yTitleX},${(y0 + y1) / 2}) rotate(-90)`)
    .attr("text-anchor", "middle").text(cfg.yTitle)
    .style("font-family", FONT).style("font-size", "18px").attr("fill", "#000");
  return plot;
}

// ---- Panel (a)
const xA = d3.scaleLinear([0.41, 60.59], [53.5, 397]);
const yA = d3.scaleLinear([0.0125, 0.698], [357, 29]);
const pA = panel({tag:"a", x:xA, y:yA, x0:53.5, x1:397, y0:29, y1:357,
  xTicks: monthTicks, yTicks:[0.2,0.4,0.6], yMinor:[0.1,0.3,0.5], yFormat: d3.format(".1f"),
  label:"(a)", xTitle:"Survival Time (months)", yTitle:"Cumulative Baseline Hazard", yTitleX:24});
const lineA = d3.line().x((d,i) => xA(hazMonths[i])).y(d => yA(d)).curve(d3.curveMonotoneX);
pA.selectAll(".ga").data(hazGrey).join("path").attr("d", lineA)
  .attr("fill","none").attr("stroke","#BEBEBE").attr("stroke-width",1);
pA.selectAll(".ra").data(hazRed).join("path").attr("d", lineA)
  .attr("fill","none").attr("stroke","#FF0000").attr("stroke-width",1.1).attr("stroke-dasharray","4,3");

// ---- Panel (b)
const xB = d3.scaleLinear([0.41, 60.59], [438.5, 794.3]);
const yB = d3.scaleLinear([-0.28, 5.90], [357, 29]);
const pB = panel({tag:"b", x:xB, y:yB, x0:438.5, x1:794.3, y0:29, y1:357,
  xTicks: monthTicks, yTicks:[0,2,4], yMinor:[1,3,5], yFormat: d3.format("d"),
  label:"(b)", xTitle:"Survival Time (months)", yTitle:"Absolute Normalized Shape Deviations", yTitleX:420});
const lineB = d3.line().x((d,i) => xB(devMonths[i])).y(d => yB(d));
pB.selectAll(".gb").data(devGrey).join("path").attr("d", lineB)
  .attr("fill","none").attr("stroke","#BEBEBE").attr("stroke-width",1);
pB.append("path").datum(devRed).attr("d", lineB)
  .attr("fill","none").attr("stroke","#FF0000").attr("stroke-width",1.1).attr("stroke-dasharray","4,3");

// ---- Panel (c)
const xC = d3.scalePoint(covariates, [844.3, 1192]).padding(0.6);
const yC = d3.scaleLinear([-5.27, 3.57], [357, 29]);
const pC = panel({tag:"c", x:xC, y:yC, x0:844.3, x1:1192, y0:29, y1:357,
  xTicks: covariates, xFormat: d => d, yTicks:[-4,-2,0,2], yMinor:[-5,-3,-1,1,3], yFormat: d3.format("d"),
  label:"(c)", xTitle:"Covariate", yTitle:"Normalized Parameter Value", yTitleX:817});
const step = xC.step();
const bw = 0.75 * step;
const boxes = covariates.map((c,i) => ({c, lo:boxLower[i], q1:boxQ1[i], med:boxMedian[i], q3:boxQ3[i], hi:boxUpper[i]}));
const bx = pC.append("g");
bx.selectAll(".whU").data(boxes).join("line")
  .attr("x1", d => xC(d.c)).attr("x2", d => xC(d.c)).attr("y1", d => yC(d.q3)).attr("y2", d => yC(d.hi))
  .attr("stroke","#333").attr("stroke-width",1.4);
bx.selectAll(".whL").data(boxes).join("line")
  .attr("x1", d => xC(d.c)).attr("x2", d => xC(d.c)).attr("y1", d => yC(d.q1)).attr("y2", d => yC(d.lo))
  .attr("stroke","#333").attr("stroke-width",1.4);
bx.selectAll(".capU").data(boxes).join("line")
  .attr("x1", d => xC(d.c) - bw/2).attr("x2", d => xC(d.c) + bw/2).attr("y1", d => yC(d.hi)).attr("y2", d => yC(d.hi))
  .attr("stroke","#555").attr("stroke-width",1.8);
bx.selectAll(".capL").data(boxes).join("line")
  .attr("x1", d => xC(d.c) - bw/2).attr("x2", d => xC(d.c) + bw/2).attr("y1", d => yC(d.lo)).attr("y2", d => yC(d.lo))
  .attr("stroke","#555").attr("stroke-width",1.8);
bx.selectAll(".box").data(boxes).join("rect")
  .attr("x", d => xC(d.c) - bw/2).attr("width", bw).attr("y", d => yC(d.q3)).attr("height", d => yC(d.q1) - yC(d.q3))
  .attr("fill","#fff").attr("stroke","#444").attr("stroke-width",1.2);
bx.selectAll(".med").data(boxes).join("line")
  .attr("x1", d => xC(d.c) - bw/2).attr("x2", d => xC(d.c) + bw/2).attr("y1", d => yC(d.med)).attr("y2", d => yC(d.med))
  .attr("stroke","#333").attr("stroke-width",2);
bx.selectAll(".out").data(outlierVal).join("circle")
  .attr("cx", (d,i) => xC(outlierCov[i])).attr("cy", d => yC(d)).attr("r", 2.4).attr("fill","#333");
const triBig = d3.symbol().type(d3.symbolTriangle).size(34);
const triSmall = d3.symbol().type(d3.symbolTriangle).size(9);
pC.selectAll(".big").data(bigVal).join("path")
  .attr("transform", (d,i) => `translate(${xC(bigCov[i]) + bigJit[i]*step},${yC(d)})`)
  .attr("d", triBig).attr("fill","#FF0000");
pC.selectAll(".small").data(smallVal).join("path")
  .attr("transform", (d,i) => `translate(${xC(smallCov[i]) + smallJit[i]*step},${yC(d)})`)
  .attr("d", triSmall).attr("fill","#000");
</script>
</body></html>
